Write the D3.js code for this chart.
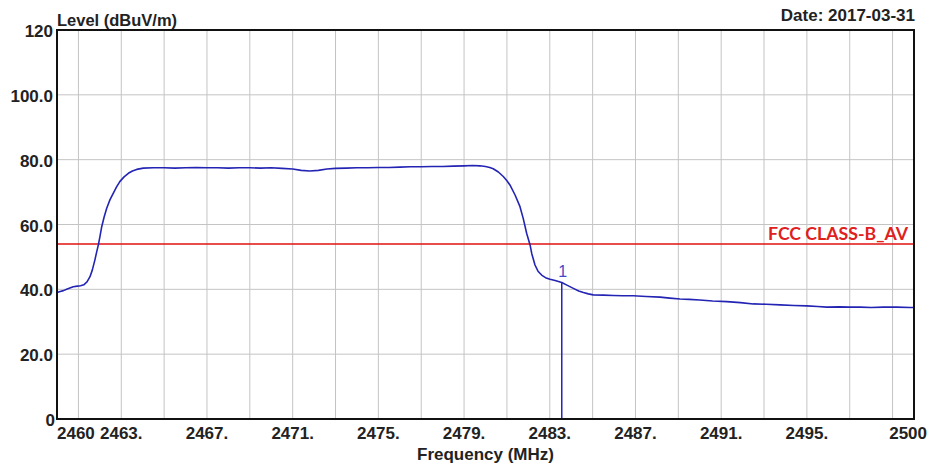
<!DOCTYPE html>
<html><head><meta charset="utf-8">
<script src="https://cdn.jsdelivr.net/npm/d3@7"></script>
<style>
html,body{margin:0;padding:0;background:#fff;}
svg{display:block;}
text{font-family:"Liberation Sans",Arial,sans-serif;}
</style></head>
<body>
<svg id="c" width="933" height="471"></svg>
<script>
const freq = [2460.00,2460.15,2460.30,2460.45,2460.60,2460.76,2460.95,2461.10,2461.25,2461.40,2461.54,2461.65,2461.77,2461.85,2461.93,2462.01,2462.09,2462.20,2462.32,2462.47,2462.63,2462.78,2462.94,2463.13,2463.33,2463.52,2463.72,2464.03,2464.5,2465.0,2465.5,2466.0,2466.5,2467.0,2467.5,2468.0,2468.5,2469.0,2469.5,2470.0,2470.5,2471.0,2471.4,2471.8,2472.2,2472.6,2473.0,2473.5,2474.0,2474.5,2475.0,2475.5,2476.0,2476.5,2477.0,2477.5,2478.0,2478.5,2479.0,2479.4,2479.74,2480.0,2480.2,2480.36,2480.6,2480.83,2481.0,2481.14,2481.38,2481.61,2481.76,2481.92,2482.08,2482.16,2482.31,2482.45,2482.62,2482.8,2483.01,2483.25,2483.56,2483.8,2484.10,2484.35,2484.57,2484.8,2485.03,2485.5,2485.97,2486.4,2486.9,2487.5,2488.15,2488.6,2489.08,2489.5,2490.0,2490.6,2491.26,2491.9,2492.5,2493.1,2493.75,2494.4,2495.0,2495.5,2495.93,2496.5,2497.0,2497.5,2498.0,2498.57,2499.2,2499.81,2500.0];
const level = [39.0,39.3,39.6,40.0,40.4,40.8,41.0,41.1,41.4,42.3,43.9,46.0,49.1,51.5,53.7,56.5,59.4,62.3,65.0,67.6,69.7,71.6,73.3,74.7,75.8,76.5,77.0,77.4,77.5,77.5,77.4,77.5,77.6,77.5,77.5,77.4,77.5,77.5,77.4,77.5,77.3,77.1,76.7,76.5,76.7,77.1,77.3,77.4,77.5,77.5,77.6,77.6,77.7,77.8,77.8,77.9,77.9,78.0,78.1,78.2,78.1,77.9,77.6,77.2,76.2,74.8,73.5,72.2,69.1,65.5,61.9,57.3,53.7,51.0,47.5,45.6,44.4,43.6,43.1,42.7,42.1,41.3,40.3,39.5,39.0,38.6,38.3,38.2,38.1,38.0,38.0,37.8,37.6,37.3,37.0,36.9,36.7,36.4,36.2,35.9,35.5,35.4,35.2,35.0,34.9,34.7,34.5,34.6,34.5,34.5,34.4,34.5,34.5,34.4,34.4];
const limitValue = 54;
const limitLabel = "FCC CLASS-B_AV";
const markerFreq = 2483.56;
const markerLevel = 42.1;
const markerLabel = "1";
const xGrid = [2461,2463,2465,2467,2469,2471,2473,2475,2477,2479,2481,2483,2485,2487,2489,2491,2493,2495,2497,2499];
const yTicks = [0,20,40,60,80,100,120];
const yTickLabels = ["0","20.0","40.0","60.0","80.0","100.0","120"];
const xTicks = [2463,2467,2471,2475,2479,2483,2487,2491,2495];
const xTickLabels = ["2463.","2467.","2471.","2475.","2479.","2483.","2487.","2491.","2495."];
const xMinLabel = "2460", xMaxLabel = "2500";
const yTitle = "Level (dBuV/m)";
const xTitle = "Frequency (MHz)";
const dateText = "Date: 2017-03-31";

const svg = d3.select("#c");
const L=57,R=914,T=30,B=419;
const x = d3.scaleLinear().domain([2460,2500]).range([L,R]);
const y = d3.scaleLinear().domain([0,120]).range([B,T]);

// grid
svg.append("g").selectAll("line").data(xGrid).join("line")
  .attr("x1",d=>x(d)).attr("x2",d=>x(d)).attr("y1",T).attr("y2",B)
  .attr("stroke","#c4c4c4").attr("stroke-width",1);
svg.append("g").selectAll("line").data(yTicks.filter(d=>d>0&&d<120)).join("line")
  .attr("x1",L).attr("x2",R).attr("y1",d=>y(d)).attr("y2",d=>y(d))
  .attr("stroke","#c4c4c4").attr("stroke-width",1);

// limit line
svg.append("line").attr("x1",L).attr("x2",R).attr("y1",y(limitValue)).attr("y2",y(limitValue))
  .attr("stroke","#e01010").attr("stroke-width",1.5);
svg.append("text").attr("x",908).attr("y",240).attr("text-anchor","end")
  .attr("fill","#e02020").attr("font-size",16.5).attr("font-weight","bold")
  .style("font-family","Lato, 'Open Sans', sans-serif")
  .attr("textLength",140).attr("lengthAdjust","spacingAndGlyphs").text(limitLabel);

// trace
const data = freq.map((f,i)=>[f,level[i]]);
svg.append("path").datum(data)
  .attr("d",d3.line().x(d=>x(d[0])).y(d=>y(d[1])))
  .attr("fill","none").attr("stroke","#2424b4").attr("stroke-width",1.6).attr("stroke-linejoin","round");

// marker
svg.append("line").attr("x1",x(markerFreq)).attr("x2",x(markerFreq)).attr("y1",y(markerLevel)).attr("y2",B)
  .attr("stroke","#2424b4").attr("stroke-width",1.5);
svg.append("text").attr("x",x(markerFreq)+1).attr("y",277).attr("text-anchor","middle")
  .attr("fill","#4848c8").attr("font-size",16).text(markerLabel);

// border
svg.append("rect").attr("x",L).attr("y",T).attr("width",R-L).attr("height",B-T)
  .attr("fill","none").attr("stroke","#111").attr("stroke-width",2);

// y tick labels
svg.append("g").selectAll("text").data(yTicks).join("text")
  .attr("x",d=>d===0?55:53).attr("y",d=>y(d)+7).attr("text-anchor","end")
  .attr("font-size",17).attr("font-weight","bold").attr("fill","#222")
  .text((d,i)=>yTickLabels[i]);

// x tick labels
svg.append("g").selectAll("text").data(xTicks).join("text")
  .attr("x",d=>x(d)).attr("y",439).attr("text-anchor","middle")
  .attr("font-size",17).attr("font-weight","bold").attr("fill","#222")
  .text((d,i)=>xTickLabels[i]);
svg.append("text").attr("x",x(2460)).attr("y",439).attr("text-anchor","start")
  .attr("font-size",17).attr("font-weight","bold").attr("fill","#222").text(xMinLabel);
svg.append("text").attr("x",927).attr("y",439).attr("text-anchor","end")
  .attr("font-size",17).attr("font-weight","bold").attr("fill","#222").text(xMaxLabel);

// titles
svg.append("text").attr("x",57).attr("y",26).attr("font-size",16.5).attr("font-weight","bold").attr("fill","#222").text(yTitle);
svg.append("text").attr("x",915).attr("y",21).attr("text-anchor","end").attr("font-size",17).attr("font-weight","bold").attr("fill","#222").text(dateText);
svg.append("text").attr("x",(L+R)/2).attr("y",460).attr("text-anchor","middle").attr("font-size",17).attr("font-weight","bold").attr("fill","#222").text(xTitle);
</script>
</body></html>
